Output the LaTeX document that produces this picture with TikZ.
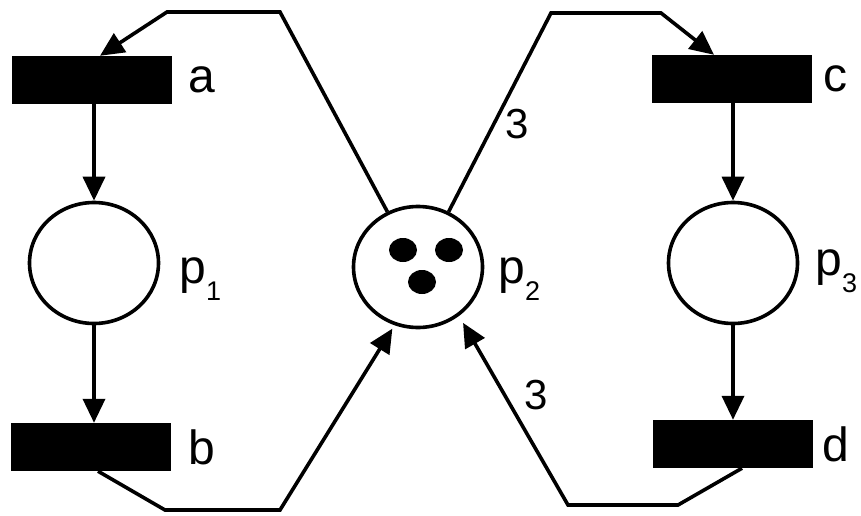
\documentclass[tikz,border=0pt]{standalone}
\usepackage{fontspec}
\setmainfont{Liberation Sans}
\usetikzlibrary{positioning,arrows.meta,shapes.geometric}
\newcommand{\psub}[2]{#1\raisebox{-17pt}{\fontsize{27}{27}\selectfont #2}}

\begin{document}
\begin{tikzpicture}[
    x=1pt, y=-1pt,
    trans/.style={rectangle, fill=black, minimum width=160pt,
                  minimum height=48pt, inner sep=0pt},
    place/.style={ellipse, draw=black, line width=3.6pt,
                  minimum width=129pt, minimum height=121pt, inner sep=0pt},
    token/.style={ellipse, fill=black, minimum width=28pt,
                  minimum height=24pt, inner sep=0pt},
    lbl/.style={inner sep=0pt, font=\fontsize{48}{56}\selectfont},
    wlbl/.style={inner sep=0pt, font=\fontsize{42}{48}\selectfont},
    arc/.style={line width=3.6pt, -{Triangle[length=24pt, width=22pt]}}
]
    \useasboundingbox (0,0) rectangle (861,516);

    % transitions
    \node[trans] (a) at (92,80) {};
    \node[trans] (b) at (91,447) {};
    \node[trans] (c) at (732,79) {};
    \node[trans] (d) at (733,444) {};

    % places
    \node[place] (p1) at (94,263) {};
    \node[place] (p2) at (418,267) {};
    \node[place] (p3) at (733,263) {};

    % tokens in p2
    \node[token] (k1) at (403,250) {};
    \node[token] (k2) at (449,250) {};
    \node[token] (k3) at (422,282) {};

    % labels
    \node[lbl, right=16pt of a] (la) {a};
    \node[lbl, right=17pt of b] (lb) {b};
    \node[lbl, right=11pt of c] (lc) {c};
    \node[lbl, right=9pt of d] (ld) {d};
    \node[lbl, right=19pt of p1, yshift=-16pt] (lp1) {\psub{p}{1}};
    \node[lbl, right=14pt of p2, yshift=-12pt] (lp2) {\psub{p}{2}};
    \node[lbl, right=16pt of p3, yshift=-8pt] (lp3) {\psub{p}{3}};

    % arcs
    \draw[arc] (a.south -| p1) -- (p1);
    \draw[arc] (p1) -- (p1 |- b.north);
    \draw[arc] (c.south -| p3) -- (p3);
    \draw[arc] (p3) -- (p3 |- d.north);

    \draw[arc] (p2.119) -- (280,12) -- (167,12) -- ([xshift=8pt]a.north);
    \draw[arc] (p2.61) -- node[wlbl, pos=.44, right=10pt] {3} (551,13)
        -- (661,13) -- ([xshift=-18pt]c.north);
    \draw[arc, shorten >=4pt] ([xshift=7pt]b.south) -- (165,510) -- (280,510) -- (p2.248);
    \draw[arc, shorten >=8pt] ([xshift=9pt]d.south) -- (678,505) -- (568,505)
        -- node[wlbl, pos=.58, right=18pt] {3} (p2.310);
\end{tikzpicture}
\end{document}
